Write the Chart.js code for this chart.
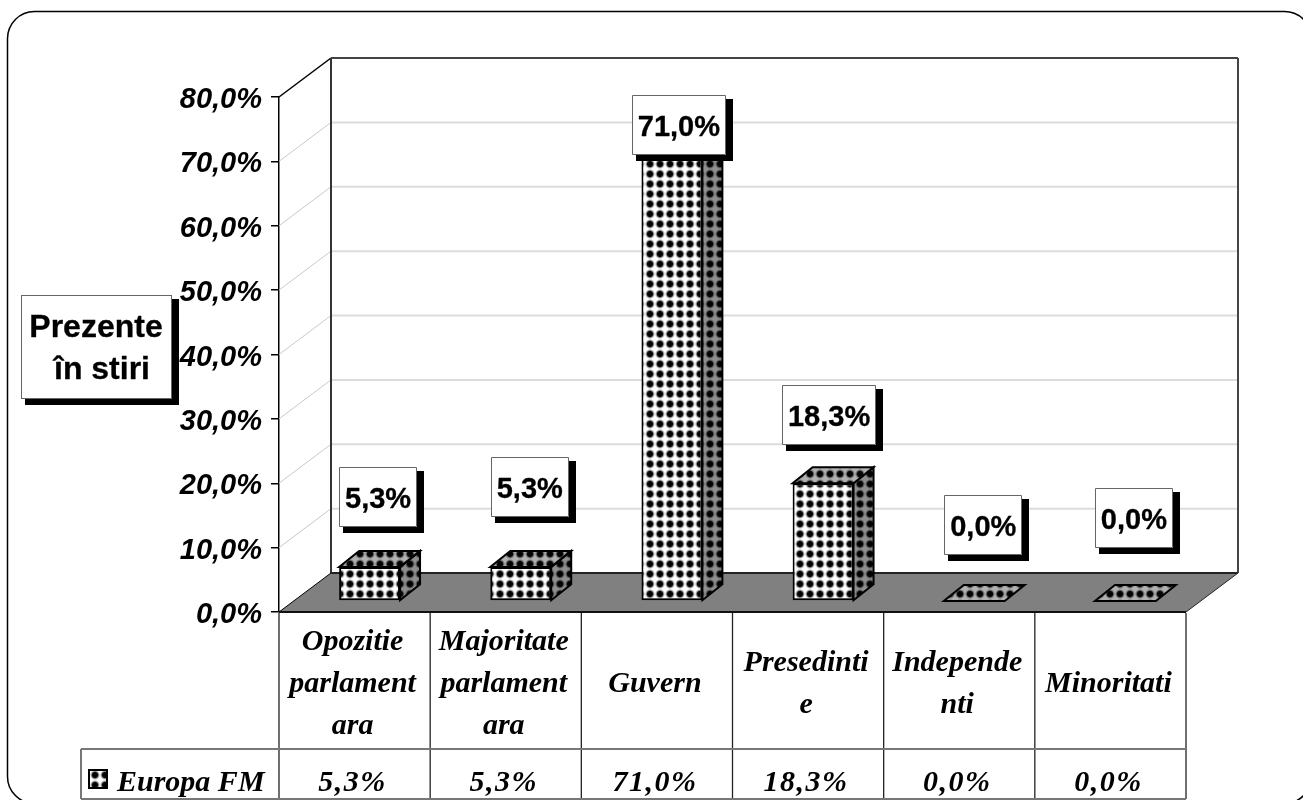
<!DOCTYPE html>
<html>
<head>
<meta charset="utf-8">
<title>Prezente in stiri</title>
<script src="https://cdn.jsdelivr.net/npm/chart.js@4"></script>
<style>
  html, body { margin: 0; padding: 0; background: #fff; overflow: hidden; }
  canvas { display: block; }
</style>
</head>
<body>
<canvas id="chart" width="1303" height="800"></canvas>
<script>
const categories = [
  ['Opozitie', 'parlament', 'ara'],
  ['Majoritate', 'parlament', 'ara'],
  ['Guvern'],
  ['Presedinti', 'e'],
  ['Independe', 'nti'],
  ['Minoritati']
];
const seriesName = 'Europa FM';
const seriesValues = [5.3, 5.3, 71.0, 18.3, 0.0, 0.0];
const axisTitle = ['Prezente', 'în stiri'];

// moved-by-hand data labels, offset from the top of each bar
const labelShiftX = [8.5, 9, 7, 6, 9, 8.5];
const labelShiftY = [-70, -80, -19, -68, -76, -83];

const WALL_DX = 52, WALL_DY = -39;   // depth of the whole plot
const BAR_DX = 20, BAR_DY = -16;     // depth of one bar
const BAR_IN_X = 15, BAR_IN_Y = -11; // bars stand this far back on the floor

const fmt = v => v.toFixed(1).replace('.', ',') + '%';

function dotTile(base) {
  const c = document.createElement('canvas');
  c.width = c.height = 10;
  const g = c.getContext('2d');
  g.fillStyle = base;
  g.fillRect(0, 0, 10, 10);
  const r = g.createRadialGradient(5, 5, 1, 5, 5, 5);
  r.addColorStop(0, 'rgba(0,0,0,1)');
  r.addColorStop(0.42, 'rgba(0,0,0,0.95)');
  r.addColorStop(0.7, 'rgba(0,0,0,0.35)');
  r.addColorStop(1, 'rgba(0,0,0,0)');
  g.fillStyle = r;
  g.fillRect(0, 0, 10, 10);
  return c;
}

const ctx = document.getElementById('chart').getContext('2d');
const frontFill = ctx.createPattern(dotTile('#ffffff'), 'repeat');
const sideFill = ctx.createPattern(dotTile('#8e8e8e'), 'repeat');
const topFill = ctx.createPattern(dotTile('#b0b0b0'), 'repeat');

function poly(c, pts) {
  c.beginPath();
  pts.forEach((p, i) => i ? c.lineTo(p[0], p[1]) : c.moveTo(p[0], p[1]));
  c.closePath();
}

function line(c, x1, y1, x2, y2, color, width) {
  c.strokeStyle = color;
  c.lineWidth = width;
  c.beginPath();
  c.moveTo(x1, y1);
  c.lineTo(x2, y2);
  c.stroke();
}

function heavyText(c, s, x, y, weight) {
  c.strokeStyle = '#000';
  c.lineWidth = weight;
  c.lineJoin = 'round';
  c.strokeText(s, x, y);
  c.fillText(s, x, y);
}

function shadowBox(c, x, y, w, h) {
  c.fillStyle = '#000';
  c.fillRect(x + 4, y + 4, w + 3, h + 2);
  c.fillStyle = '#fff';
  c.fillRect(x, y, w, h);
  c.strokeStyle = '#666';
  c.lineWidth = 1;
  c.strokeRect(x + 0.5, y + 0.5, w - 1, h - 1);
}

/* ── walls, floor and outer frame ───────────────────────────── */
const wallsPlugin = {
  id: 'walls',
  beforeDatasetsDraw(chart) {
    const { ctx: c, chartArea: a, scales: { y } } = chart;
    c.save();
    c.beginPath();
    c.roundRect(7.5, 11.5, 1304, 792, 27);
    c.strokeStyle = '#000';
    c.lineWidth = 1.5;
    c.stroke();

    const y0 = y.getPixelForValue(0);
    const yTop = y.getPixelForValue(80);

    y.ticks.forEach(t => {
      const py = y.getPixelForValue(t.value);
      if (t.value === 0 || t.value === 80) return;
      line(c, a.left, py, a.left + WALL_DX, py + WALL_DY, '#c8c8c8', 1);
      line(c, a.left + WALL_DX, py + WALL_DY, a.right + WALL_DX, py + WALL_DY, '#dcdcdc', 2);
    });

    poly(c, [[a.left, y0], [a.right, y0], [a.right + WALL_DX, y0 + WALL_DY], [a.left + WALL_DX, y0 + WALL_DY]]);
    c.fillStyle = '#808080';
    c.fill();

    line(c, a.left, yTop, a.left + WALL_DX, yTop + WALL_DY, '#000', 1.5);
    line(c, a.left, y0, a.left + WALL_DX, y0 + WALL_DY, '#000', 1);
    line(c, a.right, y0, a.right + WALL_DX, y0 + WALL_DY, '#222', 1);
    line(c, a.left + WALL_DX, yTop + WALL_DY, a.left + WALL_DX, y0 + WALL_DY, '#333', 2);
    line(c, a.left + WALL_DX, yTop + WALL_DY, a.right + WALL_DX, yTop + WALL_DY, '#444', 2);
    line(c, a.right + WALL_DX, yTop + WALL_DY, a.right + WALL_DX, y0 + WALL_DY, '#444', 2);
    line(c, a.left + WALL_DX, y0 + WALL_DY, a.right + WALL_DX, y0 + WALL_DY, '#222', 2);
    line(c, a.left, y0, a.right, y0, '#111', 2);
    c.restore();
  }
};

/* ── 3D bar sides + shift the library's bars back on the floor ─ */
const depthPlugin = {
  id: 'depth',
  beforeDatasetDraw(chart, args) {
    const c = chart.ctx;
    c.save();
    c.translate(BAR_IN_X, BAR_IN_Y);
    args.meta.data.forEach(bar => {
      const l = bar.x - bar.width / 2, r = bar.x + bar.width / 2;
      const t = bar.y, b = bar.base;
      const side = [[r, t], [r + BAR_DX, t + BAR_DY], [r + BAR_DX, b + BAR_DY], [r, b]];
      const top = [[l, t], [r, t], [r + BAR_DX, t + BAR_DY], [l + BAR_DX, t + BAR_DY]];

      if (b - t > 0.5) {
        poly(c, side);
        c.fillStyle = sideFill;
        c.fill();
        c.strokeStyle = '#000';
        c.lineWidth = 2;
        c.stroke();
      }
      poly(c, top);
      c.fillStyle = topFill;
      c.fill();
      c.strokeStyle = '#000';
      c.lineWidth = 2;
      c.stroke();
    });
  },
  afterDatasetDraw(chart) {
    chart.ctx.restore();
  }
};

/* ── data labels, axis title box, data table ────────────────── */
const overlayPlugin = {
  id: 'overlay',
  afterDraw(chart) {
    const { ctx: c, chartArea: a, scales: { x } } = chart;
    const bars = chart.getDatasetMeta(0).data;
    c.save();

    // data table
    const rowTop = 749, rowBottom = 799, legendLeft = 81;
    const half = (x.getPixelForTick(1) - x.getPixelForTick(0)) / 2;
    for (let i = 0; i <= categories.length; i++) {
      const px = i === 0 ? a.left : x.getPixelForTick(i - 1) + half;
      line(c, px, a.bottom + 1, px, rowBottom, '#222', 1.3);
    }
    line(c, legendLeft, rowTop, a.right, rowTop, '#777', 2);
    line(c, legendLeft, rowBottom, a.right, rowBottom, '#777', 2);
    line(c, legendLeft, rowTop, legendLeft, rowBottom, '#777', 2);

    c.fillStyle = '#000';
    c.textAlign = 'center';
    c.textBaseline = 'middle';
    c.font = 'italic bold 30px "Liberation Serif"';
    categories.forEach((lines, i) => {
      const cx = x.getPixelForTick(i) - 2;
      const cy = 684;
      lines.forEach((s, j) => {
        c.fillText(s, cx, cy + (j - (lines.length - 1) / 2) * 42);
      });
    });
    c.letterSpacing = '1.5px';
    seriesValues.forEach((v, i) => {
      c.fillText(fmt(v), x.getPixelForTick(i) - 2, 783);
    });
    c.letterSpacing = '0px';

    // legend key + series name
    c.fillStyle = frontFill;
    c.fillRect(89, 770, 18, 18);
    c.strokeStyle = '#000';
    c.lineWidth = 2;
    c.strokeRect(89, 770, 18, 18);
    c.fillStyle = '#000';
    c.textAlign = 'left';
    c.fillText(seriesName, 117, 783);

    // axis title box
    shadowBox(c, 21, 295, 151, 104);
    c.fillStyle = '#000';
    c.textAlign = 'center';
    c.font = 'bold 32px "Liberation Sans"';
    heavyText(c, axisTitle[0], 96, 328, 0.3);
    heavyText(c, axisTitle[1], 102, 370, 0.3);

    // data labels
    c.font = 'bold 29px "Liberation Sans"';
    bars.forEach((bar, i) => {
      const s = fmt(seriesValues[i]);
      const w = Math.round(c.measureText(s).width) + 12;
      const cx = bar.x + BAR_IN_X + labelShiftX[i];
      const cy = bar.y + BAR_IN_Y + labelShiftY[i];
      shadowBox(c, Math.round(cx - w / 2), Math.round(cy - 30), w, 60);
      c.fillStyle = '#000';
      heavyText(c, s, cx, cy + 3, 0.3);
    });
    c.restore();
  }
};

new Chart(ctx, {
  type: 'bar',
  data: {
    labels: categories,
    datasets: [{
      label: seriesName,
      data: seriesValues,
      backgroundColor: frontFill,
      borderColor: '#000',
      borderWidth: 2,
      borderSkipped: false,
      barPercentage: 0.403,
      categoryPercentage: 1,
      clip: false
    }]
  },
  options: {
    responsive: false,
    animation: false,
    devicePixelRatio: 1,
    layout: { padding: { top: 97, right: 117, left: 0, bottom: 0 } },
    plugins: {
      legend: { display: false },
      tooltip: { enabled: false }
    },
    scales: {
      x: {
        offset: true,
        grid: { display: false },
        border: { display: false },
        ticks: { display: false },
        afterFit: s => { s.height = 188; }
      },
      y: {
        min: 0,
        max: 80,
        grid: { drawOnChartArea: false, drawTicks: true, tickLength: 8, color: '#000', lineWidth: 1.5 },
        border: { display: true, color: '#000', width: 1.5 },
        ticks: {
          stepSize: 10,
          padding: 9,
          labelOffset: 3,
          color: '#000',
          font: { family: '"Liberation Sans"', size: 29, weight: 'bold', style: 'italic' },
          callback: v => fmt(v)
        },
        afterFit: s => { s.width = 279; }
      }
    }
  },
  plugins: [wallsPlugin, depthPlugin, overlayPlugin]
});
</script>
</body>
</html>
